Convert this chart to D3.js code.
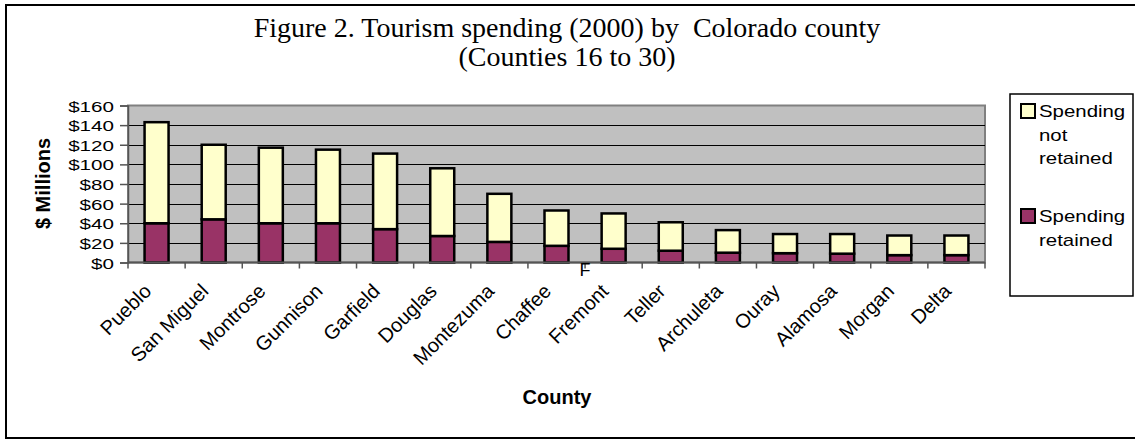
<!DOCTYPE html>
<html>
<head>
<meta charset="utf-8">
<script src="https://cdnjs.cloudflare.com/ajax/libs/d3/7.8.5/d3.min.js"></script>
<style>
  html, body { margin: 0; padding: 0; background: #fff; }
  svg { display: block; }
  text { white-space: pre; }
</style>
</head>
<body>
<svg id="chart" width="1135" height="439"></svg>
<script>
const counties = ["Pueblo", "San Miguel", "Montrose", "Gunnison", "Garfield", "Douglas", "Montezuma", "Chaffee", "Fremont", "Teller", "Archuleta", "Ouray", "Alamosa", "Morgan", "Delta"];
const retained = [40, 44, 40, 40, 34, 27, 21, 17, 14, 12, 10, 9.5, 9, 7.5, 7.5];
const notRetained = [103, 76, 77, 75, 77, 69, 49, 36, 36, 29, 23, 19.5, 20, 20, 20];
const yTicks = [0, 20, 40, 60, 80, 100, 120, 140, 160];
const seriesNames = ["Spending not retained", "Spending retained"];
const titleLines = ["Figure 2. Tourism spending (2000) by  Colorado county", "(Counties 16 to 30)"];

const svg = d3.select("#chart");
const L = 128, R = 985, T = 105.5, B = 262.5;
const SANS = "Liberation Sans, Arial, sans-serif";

// widen glyphs horizontally (reference text is wider than tall)
function stretchX(sel, f) {
  sel.each(function () {
    const w = this.getComputedTextLength();
    d3.select(this).attr("textLength", w * f).attr("lengthAdjust", "spacingAndGlyphs");
  });
}

// outer border
svg.append("rect").attr("x", 6).attr("y", 5).attr("width", 1135).attr("height", 433)
  .attr("fill", "#fff").attr("stroke", "#000").attr("stroke-width", 2);

// title
svg.selectAll("text.title").data(titleLines).enter().append("text")
  .attr("class", "title")
  .attr("x", 567).attr("y", (d, i) => 37 + i * 29)
  .attr("text-anchor", "middle")
  .attr("font-family", "Liberation Serif, Times New Roman, serif")
  .attr("font-size", 28)
  .text(d => d);

const x = d3.scaleBand().domain(counties).range([L, R]).paddingInner(0.58).paddingOuter(0.29);
const y = d3.scaleLinear().domain([0, 160]).range([B, T]);

// plot background
svg.append("rect").attr("x", L).attr("y", T).attr("width", R - L).attr("height", B - T)
  .attr("fill", "#c0c0c0").attr("stroke", "#808080").attr("stroke-width", 2);

// gridlines
svg.append("g").selectAll("line").data(yTicks.filter(d => d > 0 && d < 160)).enter().append("line")
  .attr("x1", L).attr("x2", R).attr("y1", d => Math.round(y(d)) + 0.5).attr("y2", d => Math.round(y(d)) + 0.5)
  .attr("stroke", "#000").attr("stroke-width", 1);

// stacked bars
const rows = counties.map((c, i) => ({ county: c, retained: retained[i], notRetained: notRetained[i] }));
const stack = d3.stack().keys(["retained", "notRetained"])(rows);
const colors = { retained: "#993366", notRetained: "#ffffcc" };
svg.append("g").selectAll("g").data(stack).enter().append("g")
  .attr("fill", d => colors[d.key])
  .selectAll("rect").data(d => d).enter().append("rect")
  .attr("x", d => x(d.data.county))
  .attr("width", x.bandwidth())
  .attr("y", d => y(d[1]))
  .attr("height", d => y(d[0]) - y(d[1]))
  .attr("stroke", "#000").attr("stroke-width", 2.5);

// y axis
const yAxis = d3.axisLeft(y).tickValues(yTicks).tickFormat(d => "$" + d).tickSize(8).tickPadding(6);
const gy = svg.append("g").attr("transform", `translate(${L},0)`).call(yAxis);
gy.select(".domain").attr("stroke", "#555").attr("stroke-width", 1.5);
gy.selectAll(".tick line").attr("stroke", "#555").attr("stroke-width", 1.5);
gy.selectAll(".tick text").attr("font-family", SANS).attr("font-size", 15.5).attr("fill", "#000").attr("dy", "0.36em");
stretchX(gy.selectAll(".tick text"), 1.33);

// x axis
const step = x.step();
svg.append("line").attr("x1", L).attr("x2", R).attr("y1", B).attr("y2", B).attr("stroke", "#555").attr("stroke-width", 2);
const boundaries = counties.map(c => x(c) + x.bandwidth() / 2 - step / 2).concat([x(counties[counties.length - 1]) + x.bandwidth() / 2 + step / 2]);
svg.append("g").selectAll("line").data(boundaries).enter().append("line")
  .attr("x1", d => d).attr("x2", d => d).attr("y1", B).attr("y2", B + 6)
  .attr("stroke", "#555").attr("stroke-width", 1.5);

svg.append("g").selectAll("text").data(counties).enter().append("text")
  .attr("transform", d => `translate(${x(d) + x.bandwidth() / 2 - 9},${B + 25}) rotate(-45)`)
  .attr("text-anchor", "end")
  .attr("dy", "0.35em")
  .attr("font-family", SANS)
  .attr("font-size", 20)
  .text(d => d);

// stray "F" artifact
svg.append("text").attr("x", boundaries[8]).attr("y", B + 13).attr("text-anchor", "middle")
  .attr("font-family", SANS).attr("font-size", 18).text("F");

// axis titles
svg.append("text").attr("transform", "translate(50,183.5) rotate(-90)").attr("text-anchor", "middle")
  .attr("font-family", SANS).attr("font-size", 20).attr("font-weight", "bold")
  .text("$ Millions");
svg.append("text").attr("x", 557).attr("y", 404).attr("text-anchor", "middle")
  .attr("font-family", SANS).attr("font-size", 20).attr("font-weight", "bold")
  .text("County");

// legend
svg.append("rect").attr("x", 1010).attr("y", 94).attr("width", 123).attr("height", 202)
  .attr("fill", "#fff").attr("stroke", "#000").attr("stroke-width", 1.5);
const legendItems = [
  { key: "notRetained", lines: ["Spending", "not", "retained"], y: 117 },
  { key: "retained", lines: ["Spending", "retained"], y: 222 }
];
legendItems.forEach((it) => {
  svg.append("rect").attr("x", 1021).attr("y", it.y - 13).attr("width", 14).attr("height", 14)
    .attr("fill", colors[it.key]).attr("stroke", "#000").attr("stroke-width", 2);
  const t = svg.append("g").selectAll("text").data(it.lines).enter().append("text")
    .attr("x", 1039).attr("y", (d, j) => it.y + j * 23.5)
    .attr("font-family", SANS).attr("font-size", 17)
    .text(d => d);
  stretchX(t, 1.2);
});
</script>
</body>
</html>
